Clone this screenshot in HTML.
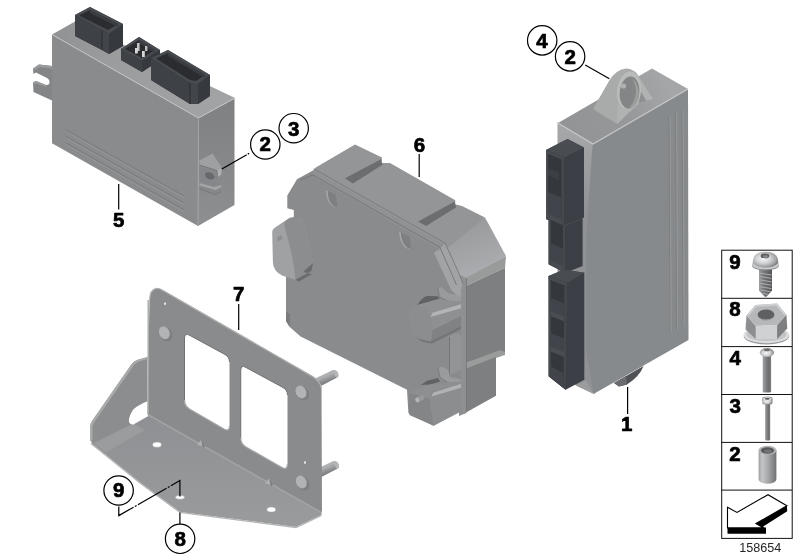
<!DOCTYPE html>
<html>
<head>
<meta charset="utf-8">
<title>Control units</title>
<style>
html,body{margin:0;padding:0;background:#fff;}
body{width:800px;height:560px;overflow:hidden;font-family:"Liberation Sans",sans-serif;}
svg{display:block;position:absolute;left:0;top:0;will-change:transform;}
.lbl{font-family:"Liberation Sans",sans-serif;font-weight:bold;font-size:20.500px;fill:#000;stroke:#000;stroke-width:0.700px;stroke-linejoin:round;text-anchor:middle;}
.leg{font-family:"Liberation Sans",sans-serif;font-weight:bold;font-size:19px;fill:#000;stroke:#000;stroke-width:0.8px;text-anchor:middle;}
.ld{stroke:#000;stroke-width:1.2;fill:none;}
.co{fill:#fff;stroke:#000;stroke-width:1.2;}
</style>
</head>
<body>
<svg width="800" height="560" viewBox="0 0 800 560">
<defs>
<linearGradient id="gTop5" gradientUnits="userSpaceOnUse" x1="52" y1="30" x2="220" y2="110">
<stop offset="0" stop-color="#8f9193"/><stop offset="0.350" stop-color="#9a9c9e"/><stop offset="1" stop-color="#a1a3a5"/>
</linearGradient>
</defs>

<!-- PART 5 -->
<g id="part5">
<!-- left mounting tab -->
<path d="M52,66 L39,64.500 L33,68.500 L33.500,74 L36,72.500 L47,78 Q50,80 49.500,83 Q49,85.500 46,85 L36,81 L33,82.500 L33.500,92 L52,100.500 Z" fill="#838587"/>
<polygon points="39,64.500 52,66 52,68.500 40,67 35,70 33,68.500" fill="#999b9d"/>
<polygon points="36,81 46,85 46,87 36,83.500 33.500,84.500 33,82.500" fill="#97999b"/>
<!-- top face -->
<polygon points="52,34.500 75,21.500 235,98 198.500,118" fill="url(#gTop5)"/>
<!-- right face -->
<linearGradient id="gR5" gradientUnits="userSpaceOnUse" x1="0" y1="105" x2="0" y2="220"><stop offset="0" stop-color="#7f8183"/><stop offset="1" stop-color="#8c8e90"/></linearGradient>
<polygon points="198.500,118 234.500,98.500 234.500,205 198,226" fill="url(#gR5)"/>
<!-- front face -->
<polygon points="52,34.500 198.500,118 198,226 52,143.300" fill="#8a8b8d"/>
<polyline points="52,34.500 198.500,118 235,98" fill="none" stroke="#c2c3c4" stroke-width="1"/>
<line x1="198.500" y1="118" x2="198" y2="226" stroke="#a3a4a5" stroke-width="1"/>
<!-- grooves -->
<g stroke="#7d7e7e" stroke-width="1.4">
<line x1="66" y1="130" x2="184" y2="196"/>
<line x1="66" y1="136.5" x2="184" y2="203"/>
<line x1="66" y1="143" x2="184" y2="210"/>
</g>
<g stroke="#9b9b9b" stroke-width="0.8">
<line x1="66" y1="131.5" x2="184" y2="197.500"/>
<line x1="66" y1="138" x2="184" y2="204.500"/>
<line x1="66" y1="144.500" x2="184" y2="211.500"/>
</g>
<!-- connector 1 -->
<polygon points="75,15 90,7 123,24 123,46 109,54 102,50 75,36" fill="#393c41"/>
<polygon points="75,15 90,7 123,24 109,34 102,30" fill="#484b50"/>
<polygon points="79,15.500 90,10 118,24 108,30 102,27" fill="#2a2c30"/>
<polygon points="90,10 118,24 118,27 90,13" fill="#3a3d42"/>
<polygon points="75,15 102,30 102,50 75,36" fill="#3e4146"/>
<polygon points="102,31 109,34 109,54 102,50" fill="#42454a"/>
<polygon points="109,34 123,24 123,46 109,54" fill="#36393e"/>
<line x1="102" y1="30" x2="102" y2="50" stroke="#2a2c30" stroke-width="1"/>
<!-- connector 2 -->
<polygon points="121,49 139,37 160,50 160,60 142,72 121,60" fill="#393c41"/>
<polygon points="121,49 139,37 160,50 142,61" fill="#484b50"/>
<polygon points="125,49 139,40 155,50 142,58" fill="#2a2c30"/>
<polygon points="139,40 155,50 155,53 139,43" fill="#3b3e43"/>
<polygon points="121,49 142,61 142,72 121,60" fill="#3e4146"/>
<polygon points="142,61 160,50 160,60 142,72" fill="#35383d"/>
<rect x="137" y="43" width="2.600" height="8" fill="#c4c4c4"/>
<rect x="145" y="46" width="2.400" height="5" fill="#bdbdbd"/>
<rect x="135" y="48" width="2.800" height="5.500" fill="#d6d6d6"/>
<rect x="142" y="51" width="2.800" height="6" fill="#d6d6d6"/>
<!-- connector 3 -->
<polygon points="151,58 168,50 210,75 210,96 198,104 190,104 151,80" fill="#393c41"/>
<polygon points="151,58 168,50 210,75 198,84 190,83" fill="#484b50"/>
<polygon points="156,58.500 168,53 205,75 196,81 190,80" fill="#2a2c30"/>
<polygon points="168,53 205,75 205,78 168,56" fill="#3a3d42"/>
<polygon points="151,58 190,83 190,104 151,80" fill="#3e4146"/>
<polygon points="190,83 198,84 198,104 190,104" fill="#42454a"/>
<polygon points="198,84 210,75 210,96 198,104" fill="#36393e"/>
<line x1="190" y1="83" x2="190" y2="104" stroke="#2a2c30" stroke-width="1"/>
<!-- right mounting tab -->
<polygon points="199.500,160.500 212.500,153.500 221.500,167 217,170.500 199.500,165" fill="#9ea0a2"/>
<polygon points="199.500,165 217,170.500 221.500,167.500 221.500,174.500 217.500,177.500 216,181 221,185 221,191.500 215.500,194.500 199.500,189" fill="#85878a"/>
<polygon points="217,170.500 221.500,167.500 221.500,174.500 217.500,177.500" fill="#adafb1"/>
<path d="M205,173.500 q3.500,-2.500 7.500,0 l2.500,3.500 q-2,3 -5,2.500 q-5,-1 -5,-6z" fill="#66686a"/>
<polygon points="199.500,183 214,187 221,185 221,187.500 215.500,190 199.500,185.500" fill="#a2a4a6"/>
<polyline points="199.500,165 217,170.500 217.500,177.500" fill="none" stroke="#6f7173" stroke-width="0.700"/>
<polyline points="199.500,189 215.500,194.500 221,191.500" fill="none" stroke="#707274" stroke-width="0.700"/>
</g>

<!-- PART 6 -->
<g id="part6">
<!-- right side face -->
<polygon points="459,272 466.500,276.500 466.500,413 459,416" fill="#8e9092"/>
<polygon points="466,277 506,256 505,268 500,270 466,286" fill="#999a9a"/>
<polygon points="466,286 500,270 505,268 505,353.750 500,352 466,363" fill="#7e7f80"/>
<polygon points="466,363 500,350 505,352 505,355 496,358 466,369" fill="#9a9b9b"/>
<polygon points="466,368.500 496,357 496,395.750 466,412.500" fill="#7e7f80"/>
<line x1="466.500" y1="278" x2="466.500" y2="412" stroke="#747577" stroke-width="0.800"/>
<!-- chamfer face -->
<linearGradient id="gCh6" gradientUnits="userSpaceOnUse" x1="465" y1="225" x2="485" y2="275"><stop offset="0" stop-color="#999b9d"/><stop offset="1" stop-color="#abadb0"/></linearGradient>
<polygon points="444,243.500 485,217.500 506,256 466,278 457,273.500" fill="url(#gCh6)"/>
<!-- top faces -->
<polygon points="313,170.600 315.750,167.600 355,144.500 382,157.500 381.500,163 390,163 455.300,200.250 455,204.300 462,205.900 485,217.500 449,247 444.400,247.600 313,172.600" fill="#939597"/>
<polygon points="345,178.200 381,159.300 382.500,164.800 352.900,183.400" fill="#6b6d6f"/>
<polygon points="418.100,221.600 454.800,201.400 456,207.500 426,226.100" fill="#6b6d6f"/>
<!-- front face -->
<polygon points="313,170.600 444.400,245.600 458.500,273.250 461,290 461,410.500 433.600,425.700 408.400,413 407,389.700 300.600,336.500 289.700,327 286,321 286,272 293.800,216 293.800,210 287.300,208.300 287.300,195.400 297,179.300" fill="#898b8d"/>
<!-- lid lip bands -->
<polygon points="313,170.600 444.400,245.600 440,250 312,176" fill="#8f9193"/>
<polygon points="440,249 445,243.100 457.500,270 462.500,283.750 461,290 461,300 451.250,290 433.750,252.500" fill="#a1a3a5"/>
<!-- lid seam -->
<polyline points="313.750,168.750 445,243.100 457.500,270 463,284" fill="none" stroke="#78797b" stroke-width="0.9"/>
<polyline points="300,180 313,175 440,247.500 450,270 456.500,285" fill="none" stroke="#747577" stroke-width="0.9"/>
<!-- lid pockets -->
<path d="M326,190 l10,5 l1.500,12 q-4,1 -7.500,-3 q-4,-5 -4,-14z" fill="#7d7f81"/><path d="M326,190 l1.800,0.900 q0,9 4,13.500 q2.500,2.500 5.500,2.600 q-4,1 -7.300,-3 q-4,-5 -4,-14z" fill="#a5a7a9"/>
<path d="M399,231.500 l10.500,5.300 l1.500,12 q-4,1 -7.500,-3 q-4,-5 -4.500,-14.300z" fill="#7d7f81"/><path d="M399,231.500 l1.800,0.900 q0.500,9 4.500,13.500 q2.500,2.500 5.200,2.900 q-4,1 -7,-3 q-4,-5 -4.500,-14.300z" fill="#a5a7a9"/>
<!-- left connector bump -->
<path d="M272.200,232 Q272.200,229 275,227.500 L290,217.500 L301.200,218.900 L305,227.600 L313.100,263 L311.500,271 L295.400,279.700 L282.500,275.800 Q272.900,271 272.900,262 Z" fill="#a0a1a3"/>
<path d="M284.100,224 Q285,220 292.200,217.300 L299,217.800 Q303,221 305,227.600 L313.100,263 L311.500,271 L295.400,279.700 Q294,262 289,243.700 Z" fill="#8b8d8f"/>
<path d="M303,272 L313.100,263 L311.500,271 L295.400,279.700 L299,281.500 L312,274 Z" fill="#6b6c6e"/>
<path d="M277,237.500 l4.500,-2.500 l1,4 l-4.500,2.500z" fill="#8d8e90"/>
<!-- left lower notch -->
<polygon points="286,312 290,314 290,323 289.700,327 286,321" fill="#7b7c7e"/>
<!-- clip 1 -->
<path d="M418,304.500 Q421,298 427,296 L438,296.200 L439.500,298.800 L437.900,299.300 L415,305.700Z" fill="#606264"/>
<polygon points="438,288.500 441.500,287 448.500,293.500 461,296 461,302.500 449,301.500 439.500,297" fill="#999b9d"/>
<polyline points="438,288.500 439.500,297 449,301.500" fill="none" stroke="#707274" stroke-width="0.700"/>
<path d="M415,305.700 L437.900,299.300 L461,301.500 L461,326 L430.700,341.400 Q418,340 413.600,332.100 Q408,322 409.300,312.100 Q411,307 415,305.700 Z" fill="#8e9092"/>
<polygon points="430.700,341.400 461,326 461,316 432.500,330" fill="#808284"/>
<polygon points="430.500,317 432.500,312.800 461,304.300 461,308.300" fill="#b2b4b6"/>
<path d="M415,305.700 Q427,305 431,318 Q433,333 430.700,341.400 Q418,340 413.600,332.100 Q408,322 409.300,312.100 Q411,307 415,305.700Z" fill="#8b8d8f"/>
<path d="M430.700,341.400 L461,326 L461,329 L432,343.500 Q422,343.500 416,337 Q420,340 430.700,341.400Z" fill="#737577"/>
<!-- rib -->
<polygon points="449,336.500 456,333 461,335 461,370 449,375" fill="#939495"/>
<line x1="449.500" y1="337" x2="449.500" y2="374" stroke="#747576" stroke-width="1"/>
<!-- clip 2 -->
<polygon points="420.700,385 427.100,380.700 437.900,377.900 440,381.500 430.700,384.500" fill="#606264"/>
<polygon points="438,368 441.500,366.500 448.500,370 450,377 461,379.500 461,384 447,382 440,377.500" fill="#999b9d"/>
<polyline points="438,368 440,377.500 447,382" fill="none" stroke="#707274" stroke-width="0.700"/>
<polygon points="409.300,392.900 413.600,390.700 430.700,384.200 461,381.500 461,384 431,392 429.300,398.600" fill="#8d8f91"/>
<polygon points="409.300,392.900 429.300,398.600 433.600,425.700 409.300,415" fill="#838587"/>
<polygon points="429.300,398.600 431,391.500 461,382.500 461,411.500 433.600,425.700" fill="#8b8d8f"/>
<polygon points="431.500,396.500 433,392.700 461,383.700 461,387.700" fill="#b0b2b4"/>
<rect x="416" y="396" width="8.500" height="5" rx="2.500" fill="#97999b" transform="rotate(-25 420 398.500)"/>
<ellipse cx="417.300" cy="400" rx="2" ry="2.600" fill="#b3b5b7" transform="rotate(-25 417.300 400)"/>
</g>

<!-- PART 1 -->
<g id="part1">
<!-- bottom bump -->
<path d="M614,383 L643.500,366 Q640,376 627,384.500 L619,386.500 Z" fill="#505255"/>
<path d="M614,383 L626,376 L627,384.500 L619,386.500 Z" fill="#6a6c6f"/>
<!-- narrow face -->
<linearGradient id="gNar1" gradientUnits="userSpaceOnUse" x1="0" y1="125" x2="0" y2="215"><stop offset="0" stop-color="#a6a8aa"/><stop offset="1" stop-color="#8f9194"/></linearGradient>
<polygon points="557.500,122 593,144 588,235 588,300 595,394 576,385.500 557.500,372" fill="url(#gNar1)"/>
<!-- big face -->
<polygon points="592.500,144 688,89 688.500,340 593.500,394 586.500,352 585.800,300 586.500,235" fill="#878a8c"/>
<polygon points="576,385.500 586,380 593.500,394" fill="#9a9c9e"/>
<!-- top face -->
<linearGradient id="gTop1" gradientUnits="userSpaceOnUse" x1="575" y1="130" x2="665" y2="80"><stop offset="0" stop-color="#929496"/><stop offset="0.500" stop-color="#96989a"/><stop offset="1" stop-color="#a4a6a8"/></linearGradient>
<polygon points="558,123 652,68.400 688,89 593,144" fill="url(#gTop1)"/>
<polyline points="558,123 593,144 688,89" fill="none" stroke="#c6c8ca" stroke-width="1.100"/>
<!-- grooves -->
<g stroke="#7f8081" stroke-width="1.100">
<line x1="669" y1="116" x2="670" y2="333"/>
<line x1="675.500" y1="112" x2="676.500" y2="330"/>
<line x1="682" y1="109" x2="683" y2="326"/>
</g>
<g stroke="#9d9e9e" stroke-width="0.700">
<line x1="670.200" y1="116" x2="671.200" y2="333"/>
<line x1="676.700" y1="112" x2="677.700" y2="330"/>
<line x1="683.200" y1="109" x2="684.200" y2="326"/>
</g>
<!-- lug -->
<path d="M593,109 L609,81 Q615,70 626,68.500 Q634,69 638,75 L653,99 L640,102 L617,124 Z" fill="#a9aaaa"/>
<path d="M636,73 L653,99 L646,100.500 L637,86 Z" fill="#b1b2b2"/>
<path d="M640,90 L646,100.500 L639,103 Z" fill="#8e8f90"/>
<ellipse cx="629" cy="91" rx="12" ry="19.500" fill="#b9baba" transform="rotate(6 629 91)"/>
<path d="M617,124 L617.500,104 Q626,114 640,102 Z" fill="#b0b1b1"/>
<ellipse cx="629.500" cy="92.500" rx="9.800" ry="16" fill="#848586" transform="rotate(6 629.500 92.500)"/>
<path d="M631,77 Q640,84 639,98 Q636,107 629,108.500 Q636,100 636,90 Q635,82 631,77Z" fill="#9c9d9d"/>
<circle cx="623.500" cy="86" r="2.600" fill="#aeafaf"/>
<!-- connector 1 -->
<polygon points="546,150 567.500,139 584,147.500 584,217.500 564,226 546,219" fill="#3c3f45"/>
<polygon points="546,150 567.500,139 584,147.500 564,157.500" fill="#494c51"/>
<polygon points="546,150 564,157.500 564,226 546,219" fill="#34373c"/>
<polygon points="546,150 564,157.500 564,160.500 546,153" fill="#484b50"/>
<polygon points="546,150 548,151 548,219.800 546,219" fill="#484b50"/>
<polygon points="561.500,156.500 564,157.500 564,226 561.500,225" fill="#45484d"/>
<polygon points="548,168 559,172.500 559,180 548,175.500" fill="#3c3f44"/>
<polygon points="548,192 561.500,197.500 561.500,225 548,219.800" fill="#41444a"/>
<polygon points="548,214 561.500,219.500 561.500,225 548,219.800" fill="#484b50"/>
<!-- connector 2 -->
<polygon points="548.700,219 564,226 582.600,218 582.600,266 565.600,272.800 548.700,264.300" fill="#3c3f45"/>
<polygon points="548.700,219 565,226.500 565.600,272.800 548.700,264.300" fill="#34373c"/>
<polygon points="548.700,219 550.700,220 550.700,265.300 548.700,264.300" fill="#484b50"/>
<polygon points="563,225.500 565,226.500 565.600,272.800 563,271.500" fill="#45484d"/>
<polygon points="550.700,243 563,248.500 563,271.500 550.700,265.300" fill="#41444a"/>
<polygon points="550.700,260 563,266 563,271.500 550.700,265.300" fill="#484b50"/>
<!-- connector 3 -->
<polygon points="548.700,276 564,269.400 584.300,272.800 584.300,379.700 565.600,389.800 548.700,376.300" fill="#3c3f45"/>
<polygon points="548.700,276 564,269.400 584.300,272.800 567.300,283" fill="#494c51"/>
<polygon points="548.700,276 567.300,283 565.600,389.800 548.700,376.300" fill="#34373c"/>
<polygon points="548.700,276 567.300,283 567.300,286.500 548.700,279.500" fill="#484b50"/>
<polygon points="548.700,276 550.700,276.800 550.700,378 548.700,376.300" fill="#484b50"/>
<polygon points="564.500,282 567.300,283 565.600,389.800 563.500,388" fill="#45484d"/>
<polygon points="550.700,298 564.300,303.500 564.200,318.500 550.700,313" fill="#41444a"/>
<polygon points="550.700,311 564.200,316.500 564.200,321.500 550.700,316" fill="#4a4d52"/>
<polygon points="550.700,333 564,338.500 564,353.500 550.700,348" fill="#41444a"/>
<polygon points="550.700,346.500 564,352 564,357 550.700,351.500" fill="#4a4d52"/>
<polygon points="550.700,366 563.700,373.500 563.500,388 550.700,378" fill="#41444a"/>
</g>

<!-- PART 7 -->
<g id="part7">
<!-- pins behind plate -->
<linearGradient id="gPin" gradientUnits="userSpaceOnUse" x1="326" y1="372" x2="329.500" y2="381"><stop offset="0" stop-color="#b9bbbd"/><stop offset="0.450" stop-color="#a8aaac"/><stop offset="1" stop-color="#7f8183"/></linearGradient>
<g id="pin"><path d="M314,379 L332.700,370 Q336.500,369.300 337.800,372.800 Q338.800,376.500 336.250,377.900 L319,387 Z" fill="url(#gPin)"/>
<ellipse cx="336.300" cy="374" rx="2" ry="3.600" fill="#b4b6b8" transform="rotate(-20 336.300 374)"/></g>
<use href="#pin" x="0.500" y="91"/>
<!-- gusset -->
<path d="M147.500,357 L137,360 Q133,361.500 131,365 L92,421 Q90,424 90,428 L90,440 L93.750,445 L133.750,424 L147.500,415 Z" fill="#8b8d8f"/>
<path d="M137,360 Q133,361.500 131,365 L92,421 Q90,424 90,428 L90,440 L92.500,441 L92.500,428 Q92.500,425 94,422.500 L133,366.500 Q135,363 139,361.500 L147.500,359 L147.500,357 Z" fill="#a9aaaa"/>
<!-- flange -->
<linearGradient id="gFl" x1="0" y1="0" x2="0" y2="1"><stop offset="0" stop-color="#8e9093"/><stop offset="1" stop-color="#999b9d"/></linearGradient>
<polygon points="147.500,414 321.500,512 321.500,515 296,527 180,512 140,482.500 91,443 93.750,442 133.750,423 " fill="url(#gFl)"/>
<polyline points="91,443.500 140,483 180,512.500 296,527.500 321.500,515.500" fill="none" stroke="#b4b5b5" stroke-width="1.300"/>
<!-- gusset tab -->
<polygon points="93.750,443.500 133.750,423.500 145,430 106,452.500" fill="#9b9c9d"/>
<!-- relief cutout -->
<path d="M129,419 Q131,410 137,406.500 Q142,403 148.800,400.700 L148.800,415.800 L133,424.700 Q128,424 129,419Z" fill="#ffffff"/>
<!-- plate -->
<path d="M149.500,298 Q149.500,290 156,288 Q159,287.500 162,289.500 L312.500,376 Q320,380.500 321.500,388 L322,512.500 L147.500,414.500 Z" fill="#898b8d"/>
<path d="M150,298 Q150,290.500 156,288.500 Q159,288 162,290 L312.500,376.500 Q320,381 321.500,388" fill="none" stroke="#b2b3b3" stroke-width="1.200"/>
<line x1="148.200" y1="300" x2="148.200" y2="414" stroke="#a6a7a7" stroke-width="1.400"/>
<!-- windows -->
<path d="M184.500,339 Q184.500,332 190,335.500 L225,354.500 Q229.500,357 229.500,362 L229.500,426 Q229.500,432 224,429 L189.500,409 Q184.500,406 184.500,400 Z" fill="#ffffff"/>
<path d="M240.750,371 Q240.750,364 246,367.500 L283,387.500 Q287.500,390 287.500,395 L287.500,464 Q287.500,470.500 282,467.500 L246,447 Q240.750,444 240.750,438 Z" fill="#ffffff"/>
<path d="M184.500,400 L184.500,339 Q184.500,332 190,335.500 L225,354.500 Q229.500,357 229.500,362" fill="none" stroke="#6f7071" stroke-width="1"/>
<path d="M240.750,438 L240.750,371 Q240.750,364 246,367.500 L283,387.500 Q287.500,390 287.500,395" fill="none" stroke="#6f7071" stroke-width="1"/>
<line x1="148" y1="414.800" x2="321" y2="512.300" stroke="#a1a3a5" stroke-width="1.600"/>
<path d="M184.500,400 Q184.500,406 189.500,409 L224,429 Q229.500,432 229.500,426" fill="none" stroke="#a7a8aa" stroke-width="1.300"/>
<path d="M240.750,438 Q240.750,444 246,447 L282,467.500 Q287.500,470.500 287.500,464" fill="none" stroke="#a7a8aa" stroke-width="1.300"/>
<!-- studs -->
<g id="stud">
<ellipse cx="166.300" cy="334.300" rx="5.800" ry="7.200" fill="#7c7e80" transform="rotate(-25 166.300 334.300)"/>
<ellipse cx="164.300" cy="332.800" rx="5.200" ry="6.600" fill="#b1b3b5" transform="rotate(-25 164.300 332.800)"/>
</g>
<use href="#stud" x="136.700" y="59.200"/>
<use href="#stud" x="137" y="149.200"/>
<!-- small holes -->
<ellipse cx="165" cy="303.700" rx="1.200" ry="2" fill="#fff" stroke="#6a6b6c" stroke-width="0.600"/>
<ellipse cx="305" cy="462.500" rx="1.200" ry="2" fill="#fff" stroke="#6a6b6c" stroke-width="0.600"/>
<ellipse cx="157" cy="444.700" rx="4.400" ry="2.600" fill="#fff" stroke="#a5a6a7" stroke-width="0.600"/>
<ellipse cx="180" cy="497.300" rx="4.500" ry="2" fill="#fff" stroke="#a5a6a7" stroke-width="0.600"/>
<ellipse cx="271.300" cy="509.500" rx="4.400" ry="2.600" fill="#fff" stroke="#a5a6a7" stroke-width="0.600"/>
<!-- dimples -->
<path d="M197,445 L201,440 L205,446.500 Z" fill="#b0b1b1"/>
<path d="M201,440 L205,446.500 L203,447.500 Z" fill="#777879"/>
<path d="M265,483.500 L269,478.500 L273,485 Z" fill="#b0b1b1"/>
<path d="M269,478.500 L273,485 L271,486 Z" fill="#777879"/>
</g>

<!-- LABELS -->
<g id="labels">
<!-- leaders -->
<line class="ld" x1="118.700" y1="184" x2="118.700" y2="209.600"/>
<line class="ld" x1="419.200" y1="154" x2="419.200" y2="177"/>
<line class="ld" x1="238.700" y1="304" x2="238.700" y2="330"/>
<line class="ld" x1="627.600" y1="387" x2="627.600" y2="413.900"/>
<line class="ld" x1="221.800" y1="169.100" x2="250.600" y2="152.500" stroke-dasharray="28.800,1.200,1.500,3"/>
<line class="ld" x1="585.200" y1="65" x2="609.400" y2="78.800"/>
<line class="ld" x1="179.900" y1="512.500" x2="179.900" y2="524"/>
<polyline class="ld" points="118.800,506.600 118.800,515.600 179.900,480.600 179.900,496.500" stroke-linejoin="miter" stroke-dasharray="26,1.500,2,1.500,33,1.500,2,1.500,60"/>
<!-- plain labels -->
<text class="lbl" x="118.600" y="227.200">5</text>
<text class="lbl" x="419.500" y="152.200">6</text>
<text class="lbl" x="238.600" y="301.200">7</text>
<text class="lbl" x="626.700" y="431.200">1</text>
<!-- callout circles -->
<circle class="co" cx="265.300" cy="144.500" r="14.700"/>
<circle class="co" cx="293.700" cy="128.200" r="14.700"/>
<circle class="co" cx="542.200" cy="40.400" r="14.700"/>
<circle class="co" cx="570.100" cy="56.400" r="14.700"/>
<circle class="co" cx="118.600" cy="490.500" r="14.700"/>
<circle class="co" cx="180.100" cy="538.800" r="14.700"/>
<text class="lbl" x="265.300" y="151.400">2</text>
<text class="lbl" x="293.700" y="135.500">3</text>
<text class="lbl" x="542" y="47.700">4</text>
<text class="lbl" x="570.200" y="63.700">2</text>
<text class="lbl" x="118.700" y="497.200">9</text>
<text class="lbl" x="180.100" y="546.300">8</text>
</g>

<!-- LEGEND -->
<g id="legend">
<defs>
<linearGradient id="gMetH" x1="0" y1="0" x2="1" y2="0"><stop offset="0" stop-color="#d2d3d4"/><stop offset="0.350" stop-color="#b6b7b8"/><stop offset="1" stop-color="#7b7c7d"/></linearGradient>
<linearGradient id="gMetV" x1="0" y1="0" x2="0" y2="1"><stop offset="0" stop-color="#e2e3e4"/><stop offset="0.500" stop-color="#bdbebf"/><stop offset="1" stop-color="#8a8b8c"/></linearGradient>
<linearGradient id="gSleeve" x1="0" y1="0" x2="1" y2="0"><stop offset="0" stop-color="#9d9ea0"/><stop offset="0.200" stop-color="#c6c7c9"/><stop offset="0.550" stop-color="#a5a6a8"/><stop offset="1" stop-color="#707173"/></linearGradient>
</defs>
<rect x="721.700" y="250.200" width="70.500" height="288.200" fill="#fff" stroke="#111" stroke-width="1"/>
<g stroke="#111" stroke-width="1">
<line x1="721.700" y1="298.300" x2="792.200" y2="298.300"/>
<line x1="721.700" y1="346.600" x2="792.200" y2="346.600"/>
<line x1="721.700" y1="394.500" x2="792.200" y2="394.500"/>
<line x1="721.700" y1="442.400" x2="792.200" y2="442.400"/>
<line x1="721.700" y1="490.100" x2="792.200" y2="490.100"/>
</g>
<text class="lbl" x="735" y="268.600">9</text>
<text class="lbl" x="735" y="315.900">8</text>
<text class="lbl" x="735.300" y="364.600">4</text>
<text class="lbl" x="735.300" y="412.800">3</text>
<text class="lbl" x="735" y="460.800">2</text>
<!-- screw 9 -->
<linearGradient id="gShaft9" x1="0" y1="0" x2="1" y2="0"><stop offset="0" stop-color="#9a9b9d"/><stop offset="0.350" stop-color="#77787a"/><stop offset="1" stop-color="#555658"/></linearGradient>
<radialGradient id="gHead9" cx="0.420" cy="0.450" r="0.600"><stop offset="0" stop-color="#f6f6f7"/><stop offset="0.450" stop-color="#d4d5d6"/><stop offset="0.800" stop-color="#a5a6a8"/><stop offset="1" stop-color="#7d7e80"/></radialGradient>
<path d="M759,268 L772,268 L772,290.500 L766.500,296.800 L764.800,296.800 L759,290.500 Z" fill="url(#gShaft9)"/>
<g stroke="#b1b2b4" stroke-width="0.900"><line x1="759.500" y1="273" x2="771.500" y2="275"/><line x1="759.500" y1="276.400" x2="771.500" y2="278.400"/><line x1="759.500" y1="279.800" x2="771.500" y2="281.800"/><line x1="759.500" y1="283.200" x2="771.500" y2="285.200"/><line x1="759.500" y1="286.600" x2="771.500" y2="288.600"/><line x1="760.500" y1="290" x2="770.500" y2="291.800"/><line x1="762.500" y1="293.200" x2="768.500" y2="294.500"/></g>
<ellipse cx="765.500" cy="265.500" rx="13.400" ry="5" fill="#8a8b8d"/>
<ellipse cx="765.500" cy="264.500" rx="13.400" ry="4.800" fill="#c9cacc"/>
<path d="M752.800,263 Q752.500,251.700 765.500,251.700 Q778.500,251.700 778.200,263 Q774,267.500 765.500,267.500 Q757,267.500 752.800,263Z" fill="url(#gHead9)"/>
<ellipse cx="765" cy="255.900" rx="4.300" ry="2.400" fill="#5d5e60"/>
<ellipse cx="765.500" cy="256.500" rx="2.500" ry="1.300" fill="#8b8c8e"/>
<!-- nut 8 -->
<ellipse cx="766.500" cy="336" rx="22.800" ry="8.400" fill="#98999b"/>
<ellipse cx="766.500" cy="335" rx="22.800" ry="8.200" fill="#dcdddf"/>
<ellipse cx="766.500" cy="334.500" rx="20" ry="6.600" fill="#c3c4c6"/>
<polygon points="746.500,315.600 755.800,325.900 755.800,339 745.500,329.500" fill="#8d8e90"/>
<polygon points="755.800,325.900 777.100,324.900 777.100,339 755.800,339" fill="#d0d1d3"/>
<polygon points="777.100,324.900 786.400,314.700 787.300,328.600 777.100,339" fill="#7e7f81"/>
<polygon points="746.500,315.600 755.300,305 777.100,303.600 786.400,314.700 777.100,324.900 755.800,325.900" fill="#b6b7b9"/>
<polygon points="746.500,315.600 755.300,305 777.100,303.600 786.400,314.700 784,314.700 776,305.500 756.300,306.800 749,315.600" fill="#cfd0d2"/>
<ellipse cx="766" cy="314.700" rx="8.400" ry="5.100" fill="#5f6062"/>
<path d="M758.500,316.500 a7.600,4 0 0 0 15.200,0 a7.600,3 0 0 1 -15.200,0z" fill="#97989a"/>
<!-- bolt 4 -->
<linearGradient id="gShaft4" x1="0" y1="0" x2="1" y2="0"><stop offset="0" stop-color="#a3a4a6"/><stop offset="0.300" stop-color="#88898b"/><stop offset="0.700" stop-color="#6c6d6f"/><stop offset="1" stop-color="#7d7e80"/></linearGradient>
<radialGradient id="gHead4" cx="0.450" cy="0.550" r="0.600"><stop offset="0" stop-color="#f6f6f7"/><stop offset="0.500" stop-color="#d0d1d2"/><stop offset="0.850" stop-color="#909193"/><stop offset="1" stop-color="#6f7072"/></radialGradient>
<rect x="762.700" y="355.500" width="8.400" height="37" rx="1.200" fill="url(#gShaft4)"/>
<ellipse cx="766.900" cy="352.600" rx="7.100" ry="4.500" fill="url(#gHead4)"/>
<ellipse cx="766.900" cy="350" rx="3" ry="1.300" fill="#6c6d6f"/>
<!-- bolt 3 -->
<rect x="765.100" y="403.500" width="5.100" height="37" rx="1" fill="url(#gShaft4)"/>
<rect x="762.100" y="396.800" width="10.400" height="7.600" rx="2.500" fill="url(#gHead4)"/>
<ellipse cx="767.300" cy="398.700" rx="4.300" ry="1.700" fill="#d9dadb"/>
<ellipse cx="767.300" cy="398.700" rx="2.400" ry="1" fill="#5f6062"/>
<!-- sleeve 2 -->
<path d="M758.600,450.300 L758.600,479.300 a8.900,4.400 0 0 0 17.800,0 L776.400,450.300 Z" fill="url(#gSleeve)"/>
<ellipse cx="767.500" cy="450.300" rx="8.900" ry="4.500" fill="#b3b4b6"/>
<ellipse cx="767.500" cy="450.500" rx="6.600" ry="3.200" fill="#58595b"/>
<ellipse cx="768" cy="451.200" rx="3.800" ry="1.700" fill="#727375"/>
<!-- arrow -->
<polygon points="727.500,527.500 766,527.500 766,533.800 727.500,533.800" fill="#000"/>
<polygon points="786.900,505.800 787.200,511.200 764,526 762,528 755.900,523.500" fill="#000"/>
<polygon points="727.500,507.300 737,512.400 768,494.700 786.900,505.800 755.900,523.500 763.600,527.900 727.500,527.900" fill="#fff" stroke="#000" stroke-width="1.100" stroke-linejoin="miter"/>
<text x="760.300" y="551.900" style="font-family:'Liberation Sans',sans-serif;font-size:12.600px;fill:#262626;text-anchor:middle;">158654</text>
</g>
</svg>
</body>
</html>
